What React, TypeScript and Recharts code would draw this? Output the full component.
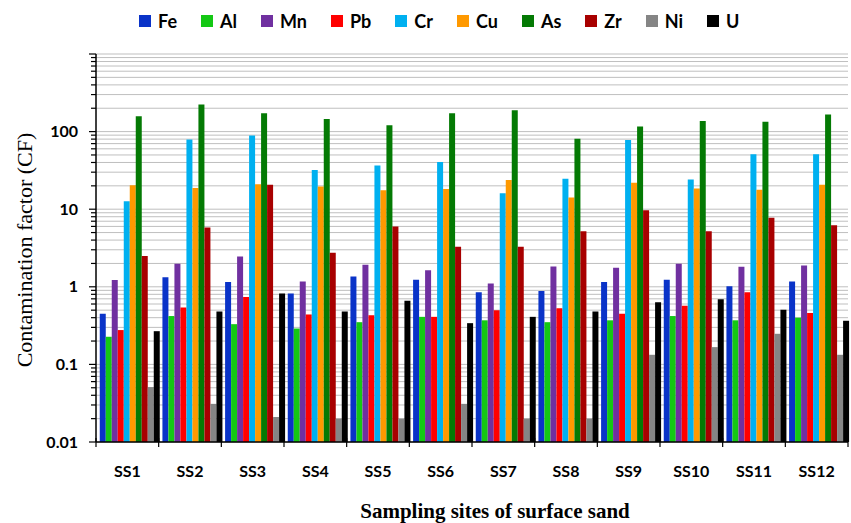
import React from 'react';
import { BarChart, Bar, XAxis, YAxis, CartesianGrid } from 'recharts';

const sites = ['SS1', 'SS2', 'SS3', 'SS4', 'SS5', 'SS6', 'SS7', 'SS8', 'SS9', 'SS10', 'SS11', 'SS12'];
const Fe = [0.45, 1.33, 1.15, 0.82, 1.36, 1.23, 0.85, 0.88, 1.15, 1.23, 1.02, 1.17];
const Al = [0.227, 0.42, 0.33, 0.29, 0.35, 0.41, 0.37, 0.35, 0.37, 0.42, 0.37, 0.4];
const Mn = [1.22, 1.98, 2.46, 1.17, 1.92, 1.64, 1.1, 1.83, 1.76, 1.98, 1.81, 1.88];
const Pb = [0.277, 0.54, 0.74, 0.44, 0.43, 0.41, 0.5, 0.53, 0.45, 0.57, 0.85, 0.46];
const Cr = [12.7, 79, 89, 32, 36.5, 40.5, 16.1, 24.6, 78, 24.1, 51, 51];
const Cu = [20.4, 18.7, 21, 19.6, 17.6, 18.2, 23.7, 14.2, 22, 18.5, 17.8, 20.6];
const As = [158, 224, 173, 145, 121, 173, 189, 81, 116, 137, 134, 166];
const Zr = [2.5, 5.8, 20.6, 2.74, 6.0, 3.27, 3.27, 5.2, 9.7, 5.2, 7.75, 6.2];
const Ni = [0.051, 0.031, 0.021, 0.02, 0.02, 0.031, 0.02, 0.02, 0.133, 0.167, 0.248, 0.133];
const U = [0.268, 0.48, 0.82, 0.48, 0.66, 0.34, 0.41, 0.48, 0.63, 0.69, 0.505, 0.365];

const seriesNames = ['Fe', 'Al', 'Mn', 'Pb', 'Cr', 'Cu', 'As', 'Zr', 'Ni', 'U'];
const seriesValues = [Fe, Al, Mn, Pb, Cr, Cu, As, Zr, Ni, U];
const seriesColors = ['#0a33c8', '#14c814', '#7030a0', '#ff0000', '#00b0f0', '#ff9900', '#047a04', '#a80000', '#858585', '#000000'];

const decades = [0.01, 0.1, 1, 10, 100];
const yTicks: number[] = [];
decades.forEach((d) => {
  for (let m = 1; m <= 9; m++) yTicks.push(+(d * m).toPrecision(3));
});
yTicks.push(1000);

const data = sites.map((s, i) => {
  const row: Record<string, any> = { site: s };
  seriesNames.forEach((n, k) => {
    row[n] = seriesValues[k][i];
  });
  return row;
});

const W = 851;
const H = 523;
const M = { top: 54, right: 3, left: 0, bottom: 0 };
const Y_W = 96;
const X_H = 81;
const BAND = (W - M.left - M.right - Y_W) / sites.length;

const tickFont = 'Lato, "Open Sans", sans-serif';
const serif = '"Liberation Serif", "DejaVu Serif", serif';

const YTick = (props: any) => {
  const { x, y, payload } = props;
  const v = payload.value;
  const isMajor = decades.includes(v) || v === 1000;
  return (
    <g>
      <line x1={x - (isMajor ? 7 : 5)} x2={x} y1={y} y2={y} stroke="#000" strokeWidth={1.2} />
      {decades.includes(v) && (
        <text x={x - 18} y={y} dy={5.5} textAnchor="end" fontFamily={tickFont} fontWeight={700} fontSize={16} fill="#000">
          {String(v)}
        </text>
      )}
    </g>
  );
};

const XTick = (props: any) => {
  const { x, y, payload, index } = props;
  const left = x - BAND / 2;
  const right = x + BAND / 2;
  return (
    <g>
      <line x1={left} x2={left} y1={y - 4} y2={y + 5} stroke="#000" strokeWidth={1.2} />
      {index === sites.length - 1 && <line x1={right} x2={right} y1={y - 4} y2={y + 5} stroke="#000" strokeWidth={1.2} />}
      <text x={x} y={y + 35} textAnchor="middle" fontFamily={tickFont} fontWeight={700} fontSize={16} fill="#000">
        {payload.value}
      </text>
    </g>
  );
};

export default function App() {
  return (
    <div style={{ position: 'fixed', left: 0, top: 0, width: W, height: H, background: '#fff' }}>
      <BarChart width={W} height={H} data={data} margin={M} barCategoryGap="6%" barGap={0}>
        <CartesianGrid vertical={false} stroke="#bfbfbf" strokeWidth={1} />
        <XAxis
          dataKey="site"
          height={X_H}
          tickSize={0}
          tickMargin={0}
          tickLine={false}
          tick={<XTick />}
          axisLine={{ stroke: '#000', strokeWidth: 1.5 }}
          interval={0}
        />
        <YAxis
          scale="log"
          type="number"
          domain={[0.01, 1000]}
          allowDataOverflow
          ticks={yTicks}
          interval={0}
          width={Y_W}
          tickSize={0}
          tickMargin={0}
          tickLine={false}
          tick={<YTick />}
          axisLine={{ stroke: '#000', strokeWidth: 1.5 }}
        />
        {seriesNames.map((n, k) => (
          <Bar key={n} dataKey={n} fill={seriesColors[k]} isAnimationActive={false} />
        ))}
      </BarChart>
      <div
        style={{
          position: 'absolute',
          left: 139,
          top: 10,
          display: 'flex',
          alignItems: 'center',
          gap: 24,
          fontFamily: tickFont,
          fontWeight: 700,
          fontSize: 18,
          color: '#000',
        }}
      >
        {seriesNames.map((n, k) => (
          <div key={n} style={{ display: 'flex', alignItems: 'center' }}>
            <span style={{ display: 'inline-block', width: 12, height: 12, background: seriesColors[k], marginRight: 7 }} />
            <span>{n}</span>
          </div>
        ))}
      </div>
      <svg width={W} height={H} style={{ position: 'absolute', left: 0, top: 0, pointerEvents: 'none' }}>
        <text transform="translate(32,250) rotate(-90)" textAnchor="middle" fontFamily={serif} fontSize={22} fill="#000">
          Contamination factor (CF)
        </text>
        <text x={495} y={518} textAnchor="middle" fontFamily={serif} fontWeight={700} fontSize={21} fill="#000">
          Sampling sites of surface sand
        </text>
      </svg>
    </div>
  );
}
